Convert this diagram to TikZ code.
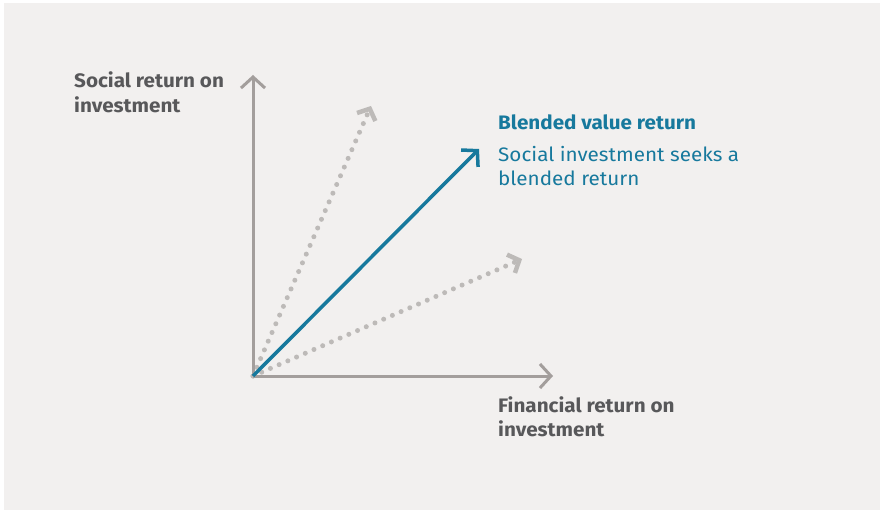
\documentclass[tikz,border=0pt]{standalone}
\usepackage{fontspec}
\setmainfont{Fira Sans}[FakeStretch=1.06]
\usetikzlibrary{arrows.meta,positioning}
\definecolor{panel}{HTML}{F2F0EF}
\definecolor{axisgray}{HTML}{A39E9C}
\definecolor{dotgray}{HTML}{BDBAB8}
\definecolor{labelgray}{HTML}{58585A}
\definecolor{blendblue}{HTML}{17799D}
\tikzset{
  axis/.style    = {draw=axisgray, line width=3pt, -{Straight Barb[length=11pt,width=24pt]}},
  partial/.style = {draw=dotgray, line width=5pt, line cap=round, dash pattern=on 0pt off 9.5pt,
                    -{Straight Barb[length=9pt,width=20pt,line width=4.5pt,line cap=butt]}},
  blended/.style = {draw=blendblue, line width=3.5pt, -{Straight Barb[length=11pt,width=24pt]}},
  axislabel/.style = {font=\fontsize{19.5}{24.5}\selectfont\bfseries, text=labelgray,
                      align=left, anchor=base west, inner sep=0pt},
  bluelabel/.style = {font=\fontsize{19.5}{24}\selectfont, text=blendblue,
                      align=left, anchor=base west, inner sep=0pt}
}

\begin{document}
\begin{tikzpicture}[x=1pt,y=-1pt]

% background panel
\useasboundingbox (0,0) rectangle (884,513);
\fill[panel] (4,3) rectangle (880,510);

% origin and arrow ends
\coordinate (o) at (253,376);
\coordinate (ytop) at (253,75);
\coordinate (xend) at (553,376);
\coordinate (social) at (371,106);
\coordinate (financial) at (522,259);
\coordinate (blend) at (479,149);

% dotted one-sided returns
\draw[partial] (o) -- (social);
\draw[partial] (o) -- (financial);

% axes
\draw[axis] (o) -- (ytop);
\draw[axis] (o) -- (xend);

% blended return
\draw[blended] (o) -- (blend);

% labels (base = baseline of the last line)
\node[axislabel] (ylab) at (74,112.5) {Social return on\\investment};
\node[axislabel] (xlab) at (498,436.5) {Financial return on\\investment};
\node[bluelabel, font=\fontsize{19.5}{24}\selectfont\bfseries] (btitle) at (498,130) {Blended value return};
\node[bluelabel] (btext) at (498,186) {Social investment seeks a\\blended return};

\end{tikzpicture}
\end{document}
